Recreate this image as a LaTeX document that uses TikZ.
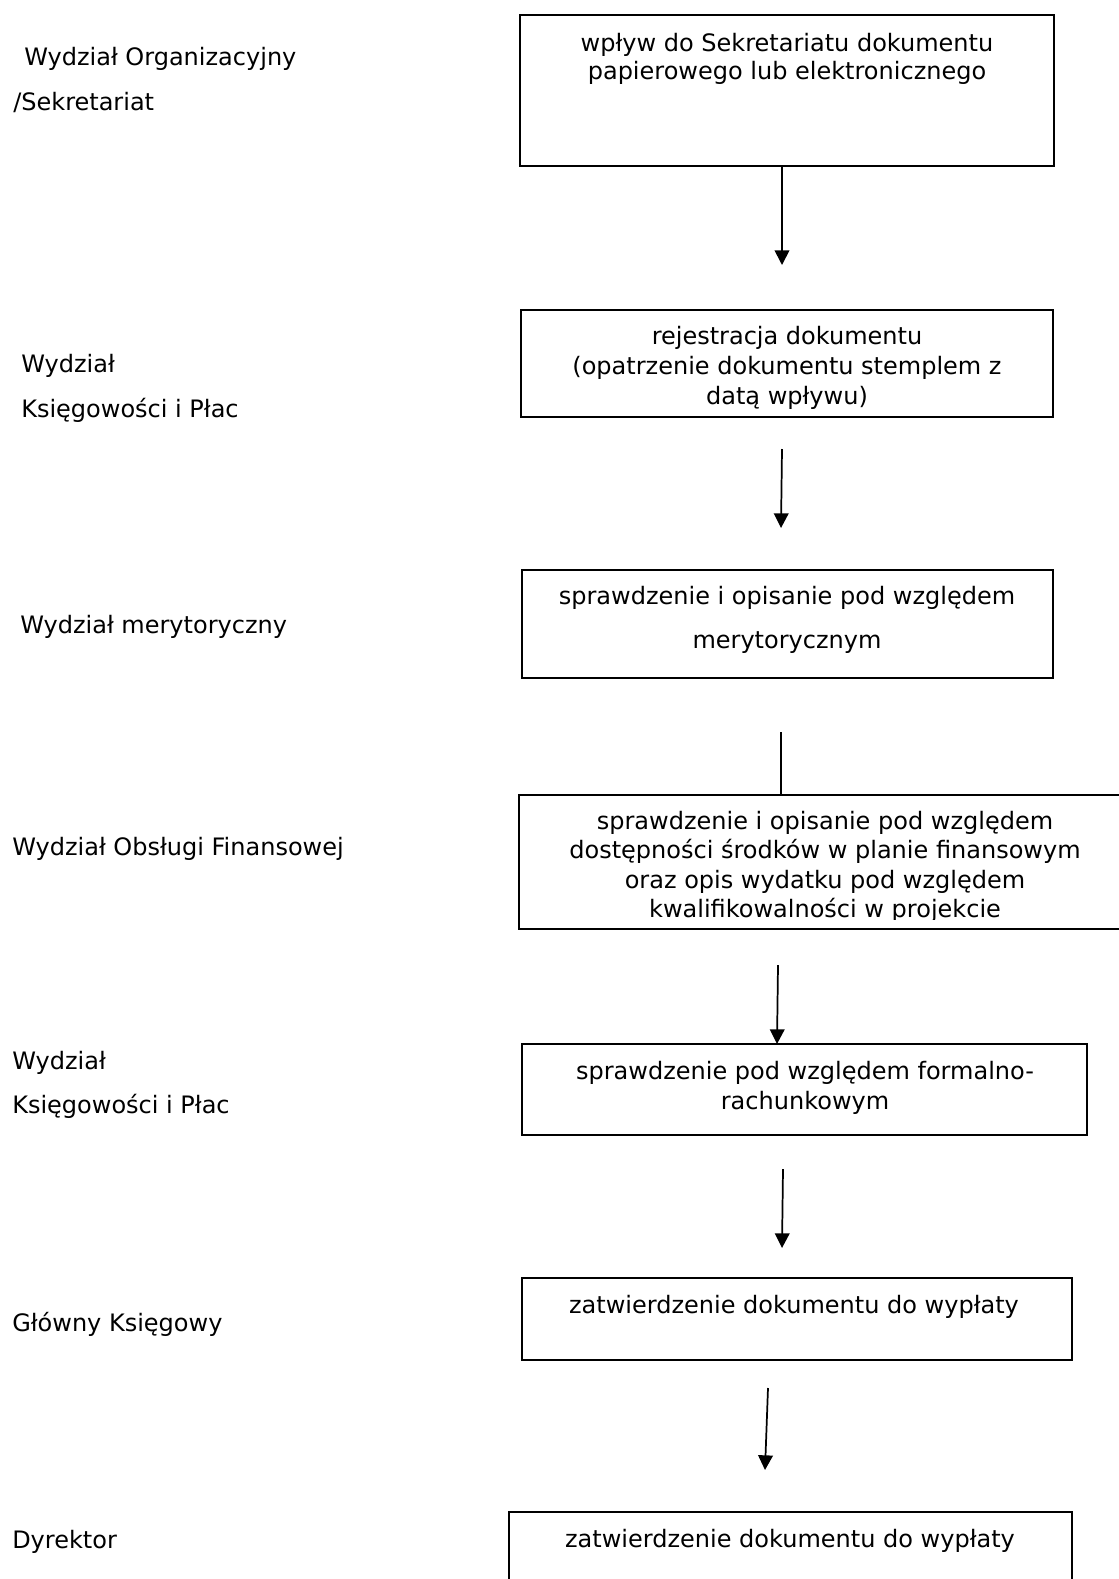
\documentclass[tikz,border=0pt]{standalone}
\usepackage{fontspec}
\setmainfont{DejaVu Sans}
\usetikzlibrary{arrows.meta,fit}
\begin{document}
\begin{tikzpicture}[x=0.75pt,y=-0.75pt,
  box/.style={draw, line width=1.5pt, inner sep=0pt},
  btext/.style={anchor=north, inner sep=0pt, align=center, font={\fontsize{18}{#1}\selectfont}},
  btext/.default=22,
  lbl/.style={anchor=base west, inner sep=0pt, font={\fontsize{18}{22}\selectfont}},
  arr/.style={line width=1.3pt, -{Triangle[width=11pt,length=11pt]}},
  ln/.style={line width=1.3pt}]
\useasboundingbox (0,0) rectangle (1119,1579);
\clip (0,0) rectangle (1119,1579);

% left column labels
\node[lbl] (l1a) at (24,65) {Wydział Organizacyjny};
\node[lbl] (l1b) at (13,110) {/Sekretariat};
\node[lbl] (l2a) at (21,372) {Wydział};
\node[lbl] (l2b) at (21,417) {Księgowości i Płac};
\node[lbl] (l3) at (20,633) {Wydział merytoryczny};
\node[lbl] (l4) at (12,855) {Wydział Obsługi Finansowej};
\node[lbl] (l5a) at (12,1069) {Wydział};
\node[lbl] (l5b) at (12,1113) {Księgowości i Płac};
\node[lbl] (l6) at (12,1331) {Główny Księgowy};
\node[lbl] (l7) at (12,1548) {Dyrektor};

% boxes
\node[box, fit={(520,15) (1054,166)}] (b1) {};
\node[btext=21] (t1) at (787,33) {wpływ do Sekretariatu dokumentu\\papierowego lub elektronicznego};

\node[box, fit={(521,310) (1053,417)}] (b2) {};
\node[btext=22.5] (t2) at (787,326) {rejestracja dokumentu\\(opatrzenie dokumentu stemplem z\\datą wpływu)};

\node[box, fit={(522,570) (1053,678)}] (b3) {};
\node[btext=33] (t3) at (787,586) {sprawdzenie i opisanie pod względem\\merytorycznym};

\node[box, fit={(519,795) (1132,929)}] (b4) {};
\begin{scope}
  \clip (519,795) rectangle (1132,919);
  \node[btext=22] (t4) at (825,811) {sprawdzenie i opisanie pod względem\\dostępności środków w planie finansowym\\oraz opis wydatku pod względem\\kwalifikowalności w projekcie};
\end{scope}

\node[box, fit={(522,1044) (1087,1135)}] (b5) {};
\node[btext=22.5] (t5) at (805,1061) {sprawdzenie pod względem formalno-\\rachunkowym};

\node[box, fit={(522,1278) (1072,1360)}] (b6) {};
\node[btext] (t6) at (794,1295) {zatwierdzenie dokumentu do wypłaty};

\node[box, fit={(509,1512) (1072,1620)}] (b7) {};
\node[btext] (t7) at (790,1529) {zatwierdzenie dokumentu do wypłaty};

% connectors
\coordinate (e1) at (782,265);
\draw[arr] (e1 |- b1.south) -- (e1);

\coordinate (s2) at (782,449);
\coordinate (e2) at (781,528);
\draw[arr] (s2) -- (e2);

\coordinate (s3) at (781,732);
\draw[ln] (s3) -- (s3 |- b4.north);

\coordinate (s4) at (778,965);
\draw[arr] (s4) -- (777,1044) coordinate (e4);

\coordinate (s5) at (783,1169);
\coordinate (e5) at (782,1248);
\draw[arr] (s5) -- (e5);

\coordinate (s6) at (768,1388);
\coordinate (e6) at (765,1470);
\draw[arr] (s6) -- (e6);
\end{tikzpicture}
\end{document}
